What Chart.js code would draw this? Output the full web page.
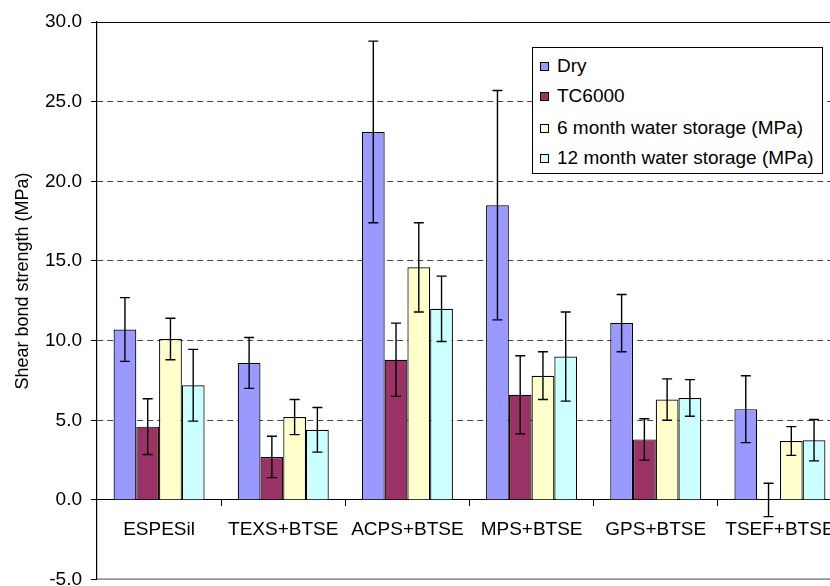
<!DOCTYPE html>
<html>
<head>
<meta charset="utf-8">
<script src="https://cdn.jsdelivr.net/npm/chart.js@4"></script>
<style>
  html, body { margin: 0; padding: 0; background: #fff; overflow: hidden; width: 830px; height: 586px; }
  #wrap { position: absolute; left: 0; top: 0; width: 860px; height: 600px; }
  #legend {
    position: absolute; left: 532px; top: 47px; width: 289px; height: 125px;
    background: #fff; border: 1px solid #000;
    font-family: "Liberation Sans", Arial, sans-serif; font-size: 19px; color: #000;
  }
  #legend .row { position: absolute; left: 7px; height: 22px; line-height: 22px; white-space: nowrap; }
  #legend .sw { display: inline-block; width: 7px; height: 7px; border: 1px solid #000; margin-right: 8px; vertical-align: 1px; }
</style>
</head>
<body>
<div id="wrap"><canvas id="shearChart"></canvas></div>
<div id="legend"></div>
<script>
// categories and series (MPa), error = +/- one std dev
const categories = ['ESPESil', 'TEXS+BTSE', 'ACPS+BTSE', 'MPS+BTSE', 'GPS+BTSE', 'TSEF+BTSE'];
const seriesNames = ['Dry', 'TC6000', '6 month water storage (MPa)', '12 month water storage (MPa)'];
const dry = [10.7, 8.6, 23.1, 18.5, 11.1, 5.7];
const dryErr = [2.0, 1.6, 5.7, 7.2, 1.8, 2.1];
const tc6000 = [4.6, 2.7, 8.8, 6.6, 3.8, 0.0];
const tc6000Err = [1.75, 1.3, 2.3, 2.45, 1.3, 1.05];
const sixMonth = [10.1, 5.2, 14.6, 7.8, 6.3, 3.7];
const sixMonthErr = [1.3, 1.1, 2.8, 1.5, 1.3, 0.9];
const twelveMonth = [7.2, 4.4, 12.0, 9.0, 6.4, 3.75];
const twelveMonthErr = [2.25, 1.4, 2.05, 2.8, 1.15, 1.3];
const yTicks = [-5, 0, 5, 10, 15, 20, 25, 30];

const colors = ['#9999FF', '#993366', '#FFFFCC', '#CCFFFF'];
const allValues = [dry, tc6000, sixMonth, twelveMonth];
const allErrors = [dryErr, tc6000Err, sixMonthErr, twelveMonthErr];
const FONT = '"Liberation Sans", Arial, sans-serif';

// legend box (html)
const legendEl = document.getElementById('legend');
const rowTops = [7, 37, 69, 99];
seriesNames.forEach((name, i) => {
  const row = document.createElement('div');
  row.className = 'row';
  row.style.top = rowTops[i] + 'px';
  row.innerHTML = '<span class="sw" style="background:' + colors[i] + '"></span>' + name;
  legendEl.appendChild(row);
});

// error bars, plot frame and y title
const errorBars = {
  id: 'errorBars',
  beforeDatasetsDraw(chart) {
    const { ctx, chartArea: a } = chart;
    ctx.save();
    ctx.lineWidth = 1;
    ctx.strokeStyle = '#000';
    ctx.beginPath();
    ctx.moveTo(a.left, a.top + 0.5);
    ctx.lineTo(a.right, a.top + 0.5);
    ctx.stroke();
    ctx.strokeStyle = '#444';
    ctx.beginPath();
    ctx.moveTo(a.left, a.bottom - 0.5);
    ctx.lineTo(a.right, a.bottom - 0.5);
    ctx.stroke();
    ctx.restore();
  },
  afterDatasetsDraw(chart) {
    const { ctx } = chart;
    const y = chart.scales.y;
    ctx.save();
    ctx.strokeStyle = '#000';
    ctx.lineWidth = 1.4;
    chart.data.datasets.forEach((ds, di) => {
      const meta = chart.getDatasetMeta(di);
      meta.data.forEach((bar, i) => {
        const v = ds.data[i], e = allErrors[di][i];
        const x = bar.x;
        const yt = y.getPixelForValue(v + e);
        const yb = y.getPixelForValue(v - e);
        ctx.beginPath();
        ctx.moveTo(x, yt); ctx.lineTo(x, yb);
        ctx.moveTo(x - 5, yt); ctx.lineTo(x + 5, yt);
        ctx.moveTo(x - 5, yb); ctx.lineTo(x + 5, yb);
        ctx.stroke();
      });
    });
    ctx.restore();
  },
  afterDraw(chart) {
    const { ctx } = chart;
    ctx.save();
    ctx.translate(23, 281);
    ctx.rotate(-Math.PI / 2);
    ctx.fillStyle = '#000';
    ctx.font = '18px ' + FONT;
    ctx.textAlign = 'center';
    ctx.textBaseline = 'middle';
    ctx.fillText('Shear bond strength (MPa)', 0, 0);
    ctx.restore();
  }
};

new Chart(document.getElementById('shearChart'), {
  type: 'bar',
  data: {
    labels: categories,
    datasets: seriesNames.map((name, i) => ({
      label: name,
      data: allValues[i],
      backgroundColor: colors[i],
      borderColor: '#000',
      borderWidth: 1.2,
      categoryPercentage: 0.733,
      barPercentage: 1.0
    }))
  },
  options: {
    responsive: true,
    maintainAspectRatio: false,
    animation: false,
    events: [],
    layout: { padding: { left: 0, top: 22, right: 18, bottom: 7 } },
    plugins: { legend: { display: false }, tooltip: { enabled: false } },
    scales: {
      x: {
        position: { y: 0 },
        afterFit: (scale) => { scale.height = 0; },
        grid: { drawOnChartArea: false, drawTicks: true, tickLength: 6, tickColor: '#000', offset: true },
        border: { display: true, color: '#000', width: 1 },
        ticks: { color: '#000', font: { family: FONT, size: 19 }, padding: 12, maxRotation: 0, autoSkip: false }
      },
      y: {
        min: -5,
        max: 30,
        afterBuildTicks: (scale) => { scale.ticks = yTicks.map(v => ({ value: v })); },
        afterFit: (scale) => { scale.width = 97; },
        grid: {
          color: (c) => ([-5, 0, 30].includes(c.tick && c.tick.value) ? 'rgba(0,0,0,0)' : '#444'),
          tickColor: '#000',
          tickLength: 6,
          lineWidth: 1
        },
        border: { display: true, color: '#000', width: 1.2, dash: [6, 4] },
        ticks: {
          color: '#000',
          padding: 9,
          font: { family: FONT, size: 19 },
          callback: (v) => Number(v).toFixed(1)
        }
      }
    }
  },
  plugins: [errorBars]
});
</script>
</body>
</html>
